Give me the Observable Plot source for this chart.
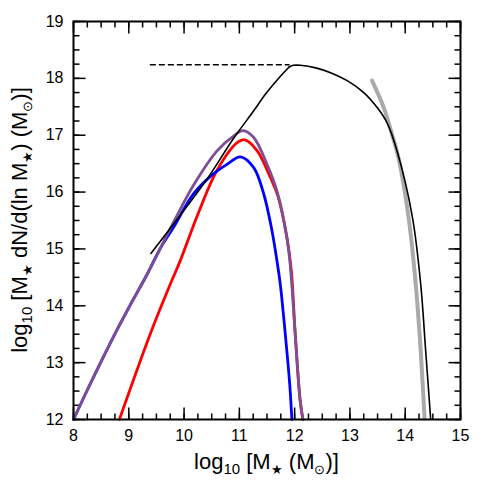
<!DOCTYPE html>
<html><head><meta charset="utf-8">
<script src="https://cdn.jsdelivr.net/npm/d3@7"></script>
<script src="https://cdn.jsdelivr.net/npm/@observablehq/plot@0.6"></script>
<style>body{margin:0;background:#fff} svg{display:block}</style>
</head><body><div id="chart"></div>
<script>
// Tick values
const xMajor = [8, 9, 10, 11, 12, 13, 14, 15];
const yMajor = [12, 13, 14, 15, 16, 17, 18, 19];
const xMinor = d3.range(8, 15.001, 0.25);
const yMinor = d3.range(12, 19.001, 0.25);

// Black curve, rising straight part
const blackRiseX = [9.40, 9.99, 10.41, 10.90, 11.26, 11.47, 11.70, 11.90];
const blackRiseY = [14.92, 15.67, 16.22, 16.95, 17.43, 17.72, 17.99, 18.20];
// Black curve, flat top and steep fall
const blackFallX = [11.90, 11.98, 12.10, 12.40, 12.65, 12.95, 13.25, 13.49, 13.67, 13.85, 14.13, 14.28, 14.37, 14.46];
const blackFallY = [18.20, 18.23, 18.23, 18.18, 18.10, 17.96, 17.75, 17.49, 17.22, 16.73, 15.56, 14.38, 13.21, 12.01];

// Dashed horizontal line
const dashX = [9.39, 11.90];
const dashY = [18.24, 18.24];

// Grey curve
const greyX = [13.40, 13.61, 13.76, 13.89, 14.06, 14.19, 14.28, 14.35];
const greyY = [17.96, 17.49, 17.02, 16.55, 15.56, 14.38, 13.21, 12.02];

// Purple curve
const purpleX = [8.00, 8.30, 8.72, 9.03, 9.33, 9.81, 10.17, 10.60, 10.90, 11.07, 11.26, 11.50, 11.68, 11.86, 11.92, 12.01, 12.10, 12.15];
const purpleY = [12.00, 12.62, 13.45, 14.02, 14.55, 15.47, 16.12, 16.73, 16.99, 17.08, 16.96, 16.49, 16.02, 15.20, 14.72, 13.51, 12.33, 12.00];

// Blue curve
const blueX = [8.00, 8.30, 8.72, 9.03, 9.33, 9.57, 9.81, 10.17, 10.53, 10.78, 11.02, 11.26, 11.44, 11.59, 11.68, 11.74, 11.83, 11.91, 11.95];
const blueY = [12.00, 12.62, 13.45, 14.02, 14.55, 15.01, 15.38, 15.97, 16.32, 16.49, 16.62, 16.43, 15.97, 15.32, 14.79, 14.38, 13.51, 12.63, 12.00];

// Red curve
const redX = [8.83, 9.39, 9.75, 9.93, 10.23, 10.53, 10.78, 10.96, 11.10, 11.32, 11.56, 11.70, 11.86, 11.94, 12.01, 12.10, 12.15];
const redY = [12.00, 13.51, 14.38, 14.79, 15.56, 16.26, 16.67, 16.87, 16.92, 16.73, 16.26, 15.92, 15.20, 14.62, 13.51, 12.33, 12.00];

const toPts = (xs, ys) => xs.map((x, i) => ({x, y: ys[i]}));

const W = 491, H = 491;
const mL = 73, mR = 31, mT = 21, mB = 72;
const X0 = 8, X1 = 15, Y0 = 12, Y1 = 19;
const FONT = "'Liberation Sans', Arial, Helvetica, sans-serif";

// tick lengths (px) converted into data units
const pxPerX = (W - mL - mR) / (X1 - X0);
const pxPerY = (H - mT - mB) / (Y1 - Y0);
const MAJ = 12, MIN = 6;

// Inward tick marks on all four sides, as link segments
const tickSegs = [];
for (const [vals, len] of [[xMinor, MIN], [xMajor, MAJ]]) {
  for (const v of vals) {
    tickSegs.push({x1: v, x2: v, y1: Y0, y2: Y0 + len / pxPerY});
    tickSegs.push({x1: v, x2: v, y1: Y1, y2: Y1 - len / pxPerY});
  }
}
for (const [vals, len] of [[yMinor, MIN], [yMajor, MAJ]]) {
  for (const v of vals) {
    tickSegs.push({y1: v, y2: v, x1: X0, x2: X0 + len / pxPerX});
    tickSegs.push({y1: v, y2: v, x1: X1, x2: X1 - len / pxPerX});
  }
}

const plot = Plot.plot({
  width: W, height: H,
  marginLeft: mL, marginRight: mR, marginTop: mT, marginBottom: mB,
  style: {fontFamily: FONT, fontSize: "16px", background: "#fff", color: "#000"},
  x: {domain: [X0, X1], label: null},
  y: {domain: [Y0, Y1], label: null},
  marks: [
    Plot.link(tickSegs, {x1: "x1", y1: "y1", x2: "x2", y2: "y2", stroke: "#000", strokeWidth: 1.5}),
    Plot.line(toPts(redX, redY), {x: "x", y: "y", stroke: "#ff0000", strokeWidth: 2.8, curve: "catmull-rom"}),
    Plot.line(toPts(blueX, blueY), {x: "x", y: "y", stroke: "#0000ff", strokeWidth: 2.8, curve: "catmull-rom"}),
    Plot.line(toPts(purpleX, purpleY), {x: "x", y: "y", stroke: "#7e4e96", strokeWidth: 2.8, curve: "catmull-rom"}),
    Plot.line(toPts(greyX, greyY), {x: "x", y: "y", stroke: "#aaaaaa", strokeWidth: 4, curve: "catmull-rom"}),
    Plot.line(toPts(blackRiseX, blackRiseY), {x: "x", y: "y", stroke: "#000", strokeWidth: 1.6, curve: "catmull-rom"}),
    Plot.line(toPts(blackFallX, blackFallY), {x: "x", y: "y", stroke: "#000", strokeWidth: 1.6, curve: "catmull-rom"}),
    Plot.line(toPts(dashX, dashY), {x: "x", y: "y", stroke: "#000", strokeWidth: 1.4, strokeDasharray: "5,4"}),
    Plot.axisX(xMajor, {anchor: "bottom", tickSize: 0, tickPadding: 10, label: null, fontSize: 16, tickFormat: d => String(d)}),
    Plot.axisY(yMajor, {anchor: "left", tickSize: 0, tickPadding: 10, label: null, fontSize: 16, tickFormat: d => String(d)}),
    Plot.frame({stroke: "#000", strokeWidth: 2})
  ]
});

const svg = d3.select(plot);
const cx = mL + (W - mL - mR) / 2;
const cy = mT + (H - mT - mB) / 2;

function addLabel(g, parts) {
  for (const [txt, kind] of parts) {
    const t = g.append("tspan").text(txt);
    if (kind === "sub") t.attr("font-size", 15).attr("dy", 5);
    else if (kind === "subsym") t.attr("font-size", 13).attr("dy", 5);
    else if (kind === "back") t.attr("dy", -5);
  }
}

const xl = svg.append("text")
  .attr("x", cx).attr("y", 469)
  .attr("text-anchor", "middle").attr("font-size", 22)
  .attr("font-family", FONT).attr("fill", "#000");
addLabel(xl, [["log"], ["10", "sub"], [" [M", "back"], ["★", "subsym"], [" (M", "back"], ["⊙", "subsym"], [")]", "back"]]);

const yl = svg.append("text")
  .attr("transform", `translate(27,${cy}) rotate(-90)`)
  .attr("text-anchor", "middle").attr("font-size", 22)
  .attr("font-family", FONT).attr("fill", "#000");
addLabel(yl, [["log"], ["10", "sub"], [" [M", "back"], ["★", "subsym"], [" dN/d(ln M", "back"], ["★", "subsym"], [") (M", "back"], ["⊙", "subsym"], [")]", "back"]]);

document.getElementById("chart").appendChild(plot);
</script>
</body></html>
